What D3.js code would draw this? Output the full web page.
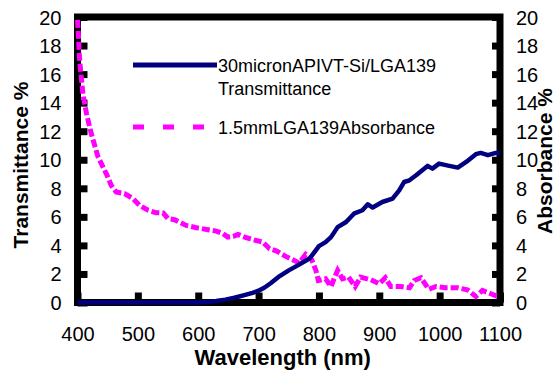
<!DOCTYPE html>
<html>
<head>
<meta charset="utf-8">
<script src="https://cdn.jsdelivr.net/npm/d3@7"></script>
<style>
  html, body { margin: 0; padding: 0; background: #fff; }
  svg { display: block; }
  text { font-family: "Liberation Sans", Arial, sans-serif; fill: #000; }
</style>
</head>
<body>
<svg id="chart" width="556" height="374"></svg>
<script>
// Wavelength axis ticks and value axis ticks
const xTicks = [400, 500, 600, 700, 800, 900, 1000, 1100];
const yTicks = [0, 2, 4, 6, 8, 10, 12, 14, 16, 18, 20];

// 30micronAPIVT-Si/LGA139 transmittance (%)
const transWl = [400, 500, 600, 615, 630, 645, 660, 675, 690, 700, 710, 720, 735, 750, 765, 785, 800,
  811, 820, 831, 845, 858, 872, 881, 889, 905, 922, 933, 941, 950, 961, 980, 988, 999, 1016, 1030,
  1044, 1060, 1068, 1080, 1093, 1100];
const transVal = [0, 0, 0, 0.03, 0.1, 0.2, 0.33, 0.5, 0.68, 0.83, 1.05, 1.35, 1.85, 2.25, 2.6, 3.1, 3.95,
  4.23, 4.58, 5.28, 5.64, 6.22, 6.46, 6.88, 6.65, 7.04, 7.28, 7.86, 8.44, 8.56, 8.91, 9.57, 9.38, 9.73, 9.57, 9.45,
  9.85, 10.39, 10.48, 10.32, 10.48, 10.45];

// 1.5mmLGA139 absorbance (%)
const absWl = [400, 402, 403, 405, 409, 415, 423, 434, 448, 456, 464, 478, 492, 503, 517, 530, 542, 550,
  561, 580, 597, 616, 630, 641, 649, 658, 666, 677, 691, 707, 718, 730, 745, 759, 767, 778, 788, 795,
  799, 811, 820, 825, 831, 839, 849, 860, 869, 886, 900, 910, 919, 936, 950, 958, 969, 982, 994, 1010,
  1030, 1046, 1060, 1071, 1085, 1099];
const absVal = [19.8, 18.4, 17.3, 16.3, 14.6, 13.2, 11.8, 10.2, 9.0, 8.2, 7.74, 7.63, 7.28, 6.8, 6.46, 6.29, 6.27, 5.87,
  5.8, 5.4, 5.24, 5.1, 5.0, 4.82, 4.58, 4.63, 4.77, 4.58, 4.4, 4.23, 3.77, 3.6, 3.23, 2.95, 2.76, 3.37, 3.0, 2.25,
  1.54, 1.66, 1.12, 1.66, 2.25, 1.66, 1.78, 1.12, 1.78, 1.59, 1.31, 1.73, 1.12, 1.12, 1.03, 1.54, 1.73, 0.93, 1.12, 1.03,
  1.03, 0.89, 0.42, 0.84, 0.61, 0.37];

const seriesNames = ["30micronAPIVT-Si/LGA139", "Transmittance", "1.5mmLGA139Absorbance"];

const svg = d3.select("#chart");
const plot = { left: 77.5, right: 500, top: 17, bottom: 302.5 };

const x = d3.scaleLinear().domain([400, 1100]).range([plot.left, plot.right]);
const yL = d3.scaleLinear().domain([0, 20]).range([plot.bottom, plot.top]);
const yR = d3.scaleLinear().domain([0, 20]).range([plot.bottom, plot.top]);

// Frame
svg.append("rect")
  .attr("x", plot.left).attr("y", plot.top)
  .attr("width", plot.right - plot.left).attr("height", plot.bottom - plot.top)
  .attr("fill", "none").attr("stroke", "#000").attr("stroke-width", 7);

// Axes with inward ticks
const axisStyle = g => {
  g.select(".domain").remove();
  g.selectAll(".tick line").attr("stroke", "#000").attr("stroke-width", 7);
  g.selectAll(".tick text").attr("font-size", 20).attr("font-family", "Liberation Sans, Arial, sans-serif");
};

svg.append("g")
  .attr("transform", `translate(0,${plot.bottom})`)
  .call(d3.axisBottom(x).tickValues(xTicks).tickSize(-10).tickPadding(0).tickFormat(d3.format("d")))
  .call(axisStyle)
  .call(g => g.selectAll(".tick text").attr("y", 38).attr("dy", null));

svg.append("g")
  .attr("transform", `translate(${plot.left},0)`)
  .call(d3.axisLeft(yL).tickValues(yTicks).tickSize(-10).tickPadding(0).tickFormat(d3.format("d")))
  .call(axisStyle)
  .call(g => g.selectAll(".tick text").attr("x", -16).attr("dy", "0.35em"));

svg.append("g")
  .attr("transform", `translate(${plot.right},0)`)
  .call(d3.axisRight(yR).tickValues(yTicks).tickSize(-8).tickPadding(0).tickFormat(d3.format("d")))
  .call(axisStyle)
  .call(g => g.selectAll(".tick text").attr("x", 16).attr("dy", "0.35em"));

// Axis titles
svg.append("text")
  .attr("x", (plot.left + plot.right) / 2 - 6).attr("y", 365)
  .attr("text-anchor", "middle").attr("font-size", 22).attr("font-weight", "bold")
  .text("Wavelength (nm)");

svg.append("text")
  .attr("transform", "translate(28,165) rotate(-90)")
  .attr("text-anchor", "middle").attr("font-size", 21).attr("font-weight", "bold")
  .text("Transmittance %");

svg.append("text")
  .attr("transform", "translate(552,161) rotate(-90)")
  .attr("text-anchor", "middle").attr("font-size", 21).attr("font-weight", "bold")
  .text("Absorbance %");

// Series
const transLine = d3.line().x((d, i) => x(transWl[i])).y(d => yL(d));
const absLine = d3.line().x((d, i) => x(absWl[i])).y(d => yR(d));

svg.append("path")
  .datum(absVal)
  .attr("d", absLine)
  .attr("fill", "none").attr("stroke", "#ff00ff").attr("stroke-width", 5)
  .attr("stroke-dasharray", "8,3");

svg.append("path")
  .datum(transVal)
  .attr("d", transLine)
  .attr("fill", "none").attr("stroke", "#000080").attr("stroke-width", 4.5)
  .attr("stroke-linejoin", "round");

// Legend
const lg = svg.append("g");
lg.append("line")
  .attr("x1", 133).attr("x2", 217).attr("y1", 65).attr("y2", 65)
  .attr("stroke", "#000080").attr("stroke-width", 5);
lg.append("text").attr("x", 218).attr("y", 72).attr("font-size", 18).text(seriesNames[0]);
lg.append("text").attr("x", 218).attr("y", 95).attr("font-size", 18).text(seriesNames[1]);
lg.append("line")
  .attr("x1", 133).attr("x2", 217).attr("y1", 127).attr("y2", 127)
  .attr("stroke", "#ff00ff").attr("stroke-width", 5)
  .attr("stroke-dasharray", "11,19");
lg.append("text").attr("x", 218).attr("y", 134).attr("font-size", 18).text(seriesNames[2]);
</script>
</body>
</html>
